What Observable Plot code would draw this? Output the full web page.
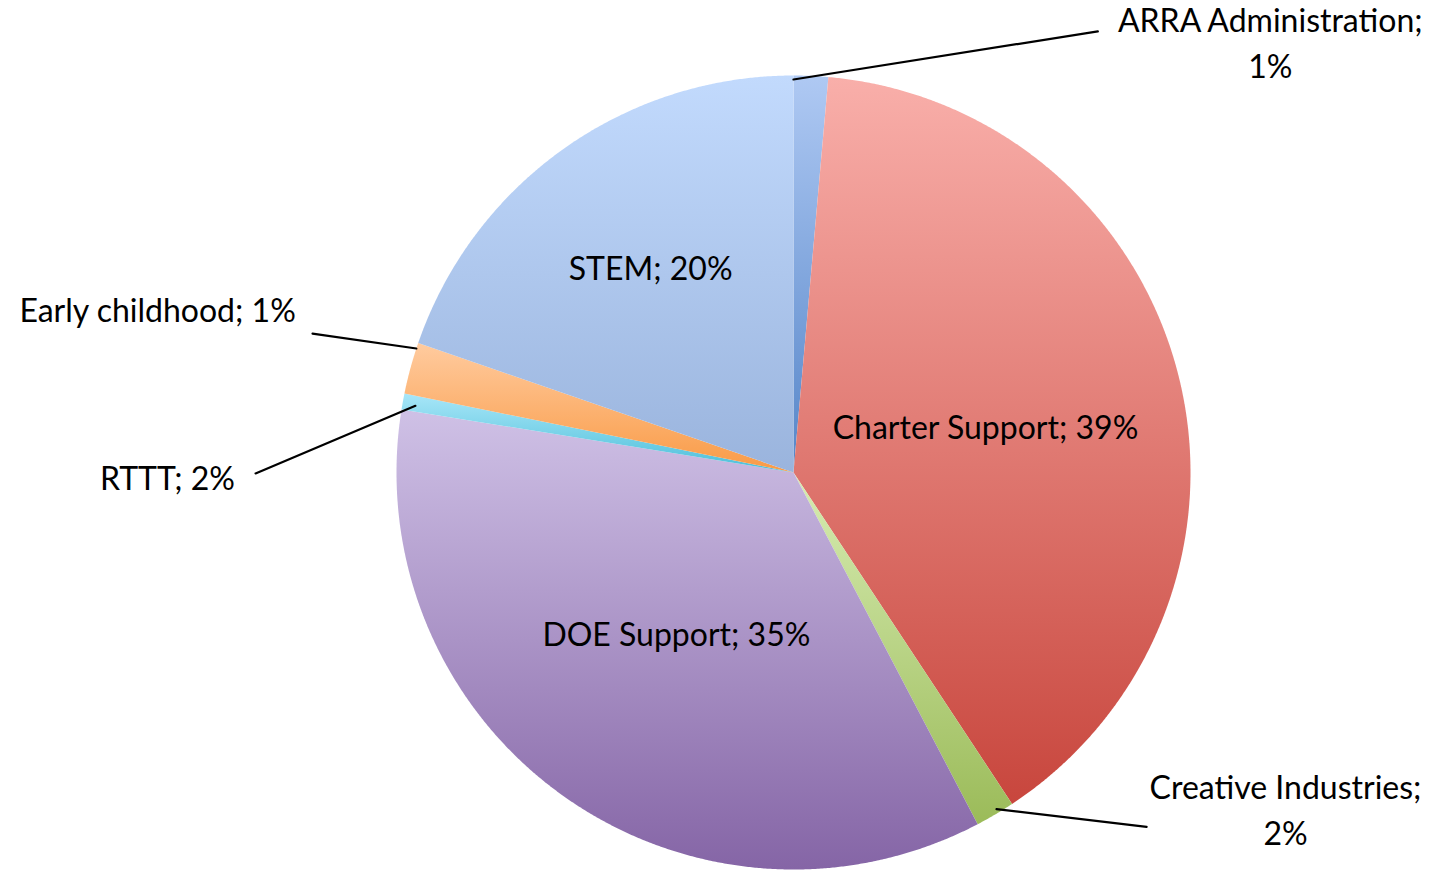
<!DOCTYPE html>
<html>
<head>
<meta charset="utf-8">
<script src="https://cdn.jsdelivr.net/npm/d3@7"></script>
<script src="https://cdn.jsdelivr.net/npm/@observablehq/plot@0.6"></script>
<style>
  html, body { margin: 0; padding: 0; background: #ffffff; }
  #chart svg { display: block; }
</style>
</head>
<body>
<div id="chart"></div>
<script>
// ---- data ----
const categories = ["ARRA Administration", "Charter Support", "Creative Industries", "DOE Support", "Early childhood", "RTTT", "STEM"];
const shares = [1.4, 39.3, 1.6, 35.2, 0.65, 2.1, 19.7];

// ---- styles ----
const gradientTop    = ["#AFC9F3", "#F9AFAA", "#D7ECB2", "#CFC1E6", "#A8E6F8", "#FFCB9F", "#C2DAFD"];
const gradientBottom = ["#5585C8", "#C8463D", "#9BBB59", "#8565A6", "#4BBED9", "#F99A45", "#9AB4DD"];

// ---- layout (radius units, angles in degrees clockwise from 12 o'clock) ----
const W = 1437, H = 871, R = 397, CX = 793, CY = 472;
const insideLabelPos = {"STEM": {r: 0.62, dAngle: 0}, "Charter Support": {r: 0.495, dAngle: 1.9}, "DOE Support": {r: 0.51, dAngle: -0.4}};
const callouts = {
  "ARRA Administration": {label: [1.616, 48.0], from: [1.35, 34.6], to: [0.99, 0.0], wrap: true},
  "Creative Industries": {label: [1.503, 124.45], from: [1.26, 135.1], to: [0.99, 148.9], wrap: true},
  "Early childhood":     {label: [1.653, 284.3], from: [1.261, 286.1], to: [1.0, 288.2], wrap: false},
  "RTTT":                {label: [1.577, 269.45], from: [1.355, 269.9], to: [0.967, 280.0], wrap: false}
};

const rad = d => d * Math.PI / 180;
const polar = ([r, deg]) => ({x: r * Math.sin(rad(deg)), y: r * Math.cos(rad(deg))});

const total = d3.sum(shares);
const arcs = d3.pie().sort(null).startAngle(0).endAngle(2 * Math.PI)(shares);

const slices = arcs.map((a, i) => {
  const pts = [{x: 0, y: 0}];
  const n = Math.max(2, Math.ceil((a.endAngle - a.startAngle) / rad(0.25)));
  for (let k = 0; k <= n; k++) {
    const t = a.startAngle + (a.endAngle - a.startAngle) * k / n;
    pts.push({x: Math.sin(t), y: Math.cos(t)});
  }
  pts.push({x: 0, y: 0});
  return {name: categories[i], i, pts, mid: (a.startAngle + a.endAngle) / 2, pct: Math.round(shares[i] / total * 100)};
});

const insideLabels = slices.filter(s => insideLabelPos[s.name]).map(s => {
  const {r, dAngle} = insideLabelPos[s.name];
  const t = s.mid + rad(dAngle);
  return {x: r * Math.sin(t), y: r * Math.cos(t), text: `${s.name}; ${s.pct}%`};
});
const outsideLabels = slices.filter(s => callouts[s.name]).map(s => {
  const c = callouts[s.name];
  const p = polar(c.label);
  return {x: p.x, y: p.y, text: `${s.name};${c.wrap ? "\n" : " "}${s.pct}%`};
});
const leaders = slices.filter(s => callouts[s.name]).flatMap(s => {
  const c = callouts[s.name];
  return [{...polar(c.from), name: s.name}, {...polar(c.to), name: s.name}];
});

const font = "Lato, 'Open Sans', sans-serif";

const plot = Plot.plot({
  width: W,
  height: H,
  margin: 0,
  x: {domain: [-CX / R, (W - CX) / R], axis: null},
  y: {domain: [-(H - CY) / R, CY / R], axis: null},
  style: {background: "#ffffff", fontFamily: font},
  marks: [
    ...slices.map(s => Plot.line(s.pts, {x: "x", y: "y", fill: `url(#grad${s.i})`, stroke: "none"})),
    Plot.line(leaders, {x: "x", y: "y", z: "name", stroke: "#000000", strokeWidth: 2.2}),
    Plot.text(insideLabels, {x: "x", y: "y", dy: -2, text: "text", fontSize: 32, fill: "#000000", fontFamily: font}),
    Plot.text(outsideLabels, {x: "x", y: "y", dy: -3, text: "text", fontSize: 32, lineHeight: 1.44, fill: "#000000", fontFamily: font})
  ]
});

// gradient definitions (one vertical gradient per slice, per bounding box)
const ns = "http://www.w3.org/2000/svg";
const defs = document.createElementNS(ns, "defs");
categories.forEach((c, i) => {
  const g = document.createElementNS(ns, "linearGradient");
  g.setAttribute("id", `grad${i}`);
  g.setAttribute("x1", "0"); g.setAttribute("y1", "0");
  g.setAttribute("x2", "0"); g.setAttribute("y2", "1");
  [[0, gradientTop[i]], [1, gradientBottom[i]]].forEach(([o, col]) => {
    const s = document.createElementNS(ns, "stop");
    s.setAttribute("offset", o);
    s.setAttribute("stop-color", col);
    g.appendChild(s);
  });
  defs.appendChild(g);
});
plot.insertBefore(defs, plot.firstChild);

document.getElementById("chart").appendChild(plot);
</script>
</body>
</html>
